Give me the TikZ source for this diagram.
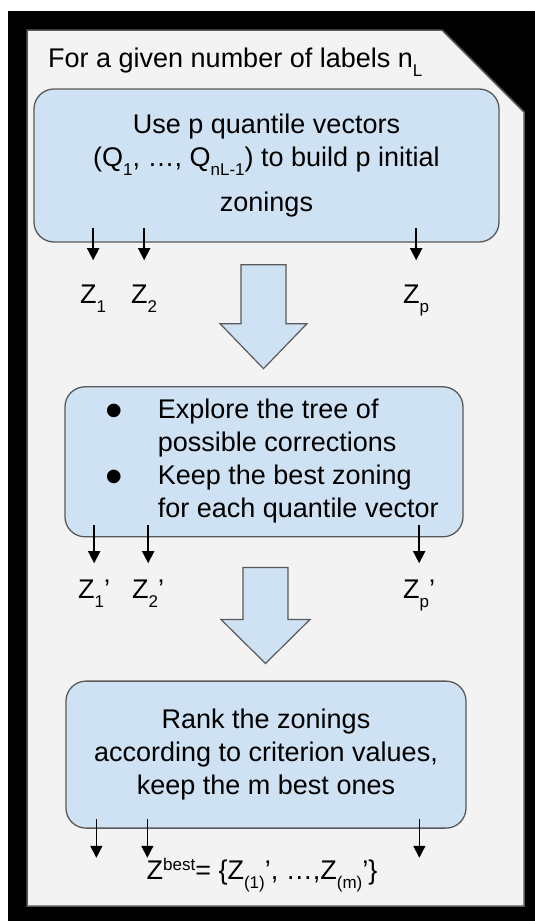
\documentclass[tikz,border=0pt]{standalone}
\usepackage{fontspec}
\setmainfont{Liberation Sans}
\usepackage{xcolor}
\usetikzlibrary{arrows.meta,positioning,calc}

\definecolor{boxblue}{HTML}{CFE2F3}
\definecolor{pagegray}{HTML}{F3F3F3}
\definecolor{edgegray}{HTML}{595959}

\newcommand{\zsub}[1]{\raisebox{-9pt}{\fontsize{17}{17}\selectfont #1}}
\newcommand{\zsup}[1]{\raisebox{9pt}{\fontsize{17}{17}\selectfont #1}}
\newcommand{\bigdot}{\smash{\raisebox{-9pt}{\fontsize{50}{33}\selectfont •}}}

\begin{document}
\begin{tikzpicture}[
    x=1pt, y=1pt,
    every node/.style={font=\fontsize{27}{33}\selectfont},
    page/.style={fill=pagegray, draw=edgegray, line width=1.5pt},
    stepbox/.style={rectangle, rounded corners=20pt, draw=edgegray, line width=1.3pt, fill=boxblue, align=center},
    zlabel/.style={anchor=base west, inner sep=0pt},
    zarrow/.style={-{Triangle[width=12pt,length=12pt]}, line width=1.6pt},
    bigarrow/.style={fill=boxblue, draw=edgegray, line width=1.2pt}
]

\useasboundingbox (0,0) rectangle (535,-921);
\fill[black] (8,-11) rectangle (535,-921);

% Sheet with cut corner
\draw[page] (27,-30) -- (442,-30) -- (524,-112) -- (524,-906) -- (27,-906) -- cycle;

% Title
\node[anchor=base west, inner sep=0pt] (title) at (48,-67) {For a given number of labels n\zsub{L}};

% Step 1
\node[stepbox, minimum width=465pt, minimum height=153pt] (init) at (266.5,-165.5)
    {Use p quantile vectors\\(Q\zsub{1}, …, Q\zsub{nL-1}) to build p initial\\[12pt]zonings};

% Initial zonings
\node[zlabel] (z1) at (80,-303) {Z\zsub{1}};
\node[zlabel] (z2) at (131,-303) {Z\zsub{2}};
\node[zlabel] (zp) at (403,-303) {Z\zsub{p}};

\draw[zarrow] ([yshift=15pt]init.south -| z1.north) -- ([yshift=24pt]z1.north);
\draw[zarrow] ([yshift=15pt]init.south -| z2.north) -- ([yshift=24pt]z2.north);
\draw[zarrow] ([yshift=15pt]init.south -| zp.north) -- ([yshift=24pt]zp.north);

% Step 2
\node[stepbox, minimum width=398pt, minimum height=150pt, below=143.5pt of init, xshift=-2.5pt] (explore)
    {\hspace*{16pt}\raisebox{-4pt}{\begin{tabular}{@{}l@{\hspace{35pt}}l@{}}
     \bigdot & Explore the tree of\\
             & possible corrections\\
     \bigdot & Keep the best zoning\\
             & for each quantile vector
     \end{tabular}}};

\draw[bigarrow] ($(init.south)+(-3,-22)$) ++(-22.5,0) -- ++(45,0) -- ++(0,-59) -- ++(21,0)
    -- ++(-43.5,-45) -- ++(-43.5,45) -- ++(21,0) -- cycle;

% Corrected zonings
\node[zlabel] (zc1) at (78,-598) {Z\zsub{1}'};
\node[zlabel] (zc2) at (132,-598) {Z\zsub{2}'};
\node[zlabel] (zcp) at (403,-598) {Z\zsub{p}'};

\draw[zarrow] ([yshift=12pt]explore.south -| zc1.north) -- ([yshift=16pt]zc1.north);
\draw[zarrow] ([yshift=12pt]explore.south -| zc2.north) -- ([yshift=16pt]zc2.north);
\draw[zarrow] ([yshift=12pt]explore.south -| zcp.north) -- ([yshift=16pt]zcp.north);

% Step 3
\node[stepbox, minimum width=400pt, minimum height=147pt, below=143pt of explore, xshift=2pt] (rank)
    {Rank the zonings\\according to criterion values,\\keep the m best ones};

\draw[bigarrow] ($(explore.south)+(1.5,-30)$) ++(-22.5,0) -- ++(45,0) -- ++(0,-52) -- ++(22,0)
    -- ++(-44.5,-44) -- ++(-44.5,44) -- ++(22,0) -- cycle;

% Best zonings
\coordinate (best1) at ($(rank.south west)+(31,-29)$);
\coordinate (best2) at ($(rank.south west)+(82,-29)$);
\coordinate (best3) at ($(rank.south west)+(354,-29)$);

\draw[zarrow] ([yshift=10pt]best1 |- rank.south) -- (best1);
\draw[zarrow] ([yshift=10pt]best2 |- rank.south) -- (best2);
\draw[zarrow] ([yshift=10pt]best3 |- rank.south) -- (best3);

\node[anchor=base, inner sep=0pt] (zbest) at (262,-879)
    {Z\zsup{best}= \{Z\zsub{(1)}', …,Z\zsub{(m)}'\}};

\end{tikzpicture}
\end{document}
